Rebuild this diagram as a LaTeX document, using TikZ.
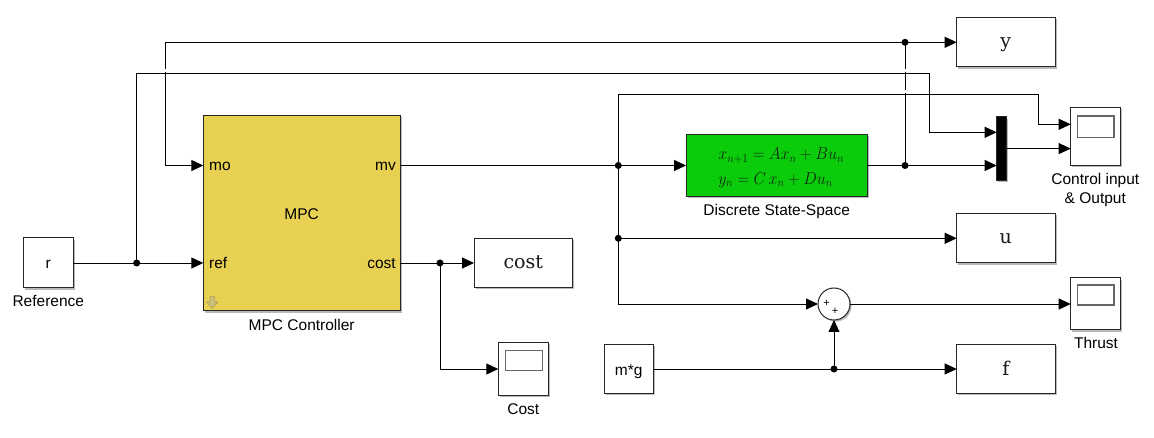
\documentclass[tikz,border=0pt]{standalone}
\usepackage{fontspec}
\usetikzlibrary{arrows.meta,shadows,calc}
\newfontfamily\arial{Liberation Sans}
\newfontfamily\dvserif{DejaVu Serif}
\definecolor{mpcyel}{RGB}{232,209,82}
\definecolor{ssgreen}{RGB}{10,204,10}
\definecolor{iconfill}{RGB}{205,192,120}
\definecolor{icondraw}{RGB}{170,158,90}
\definecolor{eqcol}{RGB}{15,40,15}
\begin{document}
\begin{tikzpicture}[x=1pt,y=-1pt,
  blk/.style={draw=black!85, line width=1pt, fill=white, inner sep=0pt, outer sep=0pt,
    drop shadow={shadow xshift=1.6pt, shadow yshift=-1.6pt, fill=black!50, opacity=0.55}},
  wire/.style={line width=0.9pt, draw=black},
  arr/.style={wire, -{Triangle[length=12pt,width=11pt]}},
  jdot/.style={circle, fill=black, inner sep=0pt, minimum size=7pt},
  lab/.style={font=\arial\fontsize{15.5}{18}\selectfont, inner sep=0pt},
  sym/.style={font=\dvserif\fontsize{19}{22}\selectfont, inner sep=0pt, text=black!90},
  eqn/.style={font=\fontsize{17.28}{20}\selectfont, inner sep=0pt, text=eqcol, xscale=0.93},
  scr/.style={draw=black!60, line width=1.2pt, fill=white},
  gap/.style={draw=white, line width=2.6pt}
]
\fill[white] (0,0) rectangle (1154,438);
\useasboundingbox (0,0) rectangle (1154,438);

% blocks
\node[blk, minimum width=50pt, minimum height=50pt] (r) at (48.3,263) {};
\node[blk, fill=mpcyel, minimum width=196.7pt, minimum height=195.3pt] (mpc) at (301.65,213.3) {};
\node[blk, fill=ssgreen, minimum width=181.3pt, minimum height=62.7pt] (ss) at (776.65,165.5) {};
\node[blk, minimum width=98.3pt, minimum height=49.3pt] (yb) at (1005.85,42.3) {};
\node[blk, minimum width=98.3pt, minimum height=49.3pt] (ub) at (1005.85,238.3) {};
\node[blk, minimum width=98.3pt, minimum height=49.3pt] (fb) at (1005.85,369) {};
\node[blk, minimum width=98.7pt, minimum height=49.3pt] (costb) at (523.35,263) {};
\node[blk, minimum width=49.3pt, minimum height=57.7pt] (cio) at (1095.35,136.2) {};
\node[blk, minimum width=49.3pt, minimum height=52pt] (thr) at (1095.35,304) {};
\node[blk, minimum width=50pt, minimum height=52.3pt] (cscope) at (523.3,369) {};
\node[blk, fill=black, minimum width=9.3pt, minimum height=63.3pt] (mux) at (1001.35,148.6) {};
\node[blk, circle, minimum size=32pt] (sum) at (834,304) {};
\node[blk, minimum width=49.3pt, minimum height=49pt] (mg) at (628.65,369) {};

% scope screens
\draw[scr] ($(cio.north west)+(6.5,8.7)$) rectangle ($(cio.north east)+(-6,30.4)$);
\draw[scr] ($(thr.north west)+(7,7)$) rectangle ($(thr.north east)+(-6,27)$);
\draw[scr] ($(cscope.north west)+(7.5,7.3)$) rectangle ($(cscope.north east)+(-6,27.3)$);

% MPC icon
\filldraw[fill=iconfill, draw=icondraw, line width=0.6pt]
  (210,296.7) -- (214.7,296.7) -- (214.7,302) -- (218,302) -- (212.3,308.3) -- (206.7,302) -- (210,302) -- cycle;

% port and helper coordinates
\coordinate (mpcmo) at (203.3,165.5);
\coordinate (mpcref) at (203.3,263);
\coordinate (mpcmv) at (400,165.5);
\coordinate (mpccost) at (400,263);
\coordinate (muxin1) at (996.7,132.3);
\coordinate (muxin2) at (996.7,165.5);
\coordinate (cioin1) at (1070.7,124.3);
\coordinate (cioin2) at (1070.7,148.6);
\coordinate (jr) at (136.7,263);
\coordinate (jc) at (440,263);
\coordinate (jmv) at (618.3,165.5);
\coordinate (ju) at (618.3,238.3);
\coordinate (jy) at (905,165.5);
\coordinate (jy2) at (905,42.3);
\coordinate (jm) at (834,369);
\coordinate (k1) at (929,73.3);
\coordinate (k2) at (165.7,165.5);
\coordinate (k3) at (1038.3,94.3);

% wires
\draw[arr] (r.east) -- (mpcref);
\draw[arr] (jy) -- (jy2) -- (yb.west);
\draw[arr] (jy2) -| (k2) -- (mpcmo);
\draw[arr] (mpcmv) -- (ss.west);
\draw[arr] (ss.east) -- (muxin2);
\draw[arr] (mux.east |- cioin2) -- (cioin2);
\draw[arr] (jmv) |- (sum.west);
\draw[arr] (ju) -- (ub.west);
\draw[arr] (sum.east) -- (thr.west);
\draw[arr] (mg.east) -- (fb.west);
\draw[arr] (jm) -- (sum.south);
\draw[arr] (mpccost) -- (costb.west);
\draw[arr] (jc) |- (cscope.west);
% crossing gaps (vertical lines tunnel under)
\draw[gap] (165.7,68.8) -- (165.7,71.6);
\draw[gap] (905,68.8) -- (905,71.6);
\draw[gap] (905,89.8) -- (905,92.6);
\draw[gap] (929,89.8) -- (929,92.6);
\draw[arr] (jr) |- (k1) |- (muxin1);
\draw[arr] (jmv) |- (k3) |- (cioin1);

% junction dots
\foreach \j in {jr,jc,jmv,ju,jy,jy2,jm} \node[jdot] (d\j) at (\j) {};

% texts
\node[lab, anchor=base] (rlab) at (48.3,268.3) {r};
\node[lab, anchor=base] (reflab) at (48.3,306.7) {Reference};
\node[lab, anchor=base] (mpclab) at (301.7,219.3) {MPC};
\node[lab, anchor=base west] (molab) at (209,170.8) {mo};
\node[lab, anchor=base west] (refport) at (209,268.3) {ref};
\node[lab, anchor=base east] (mvlab) at (396,170.8) {mv};
\node[lab, anchor=base east] (costport) at (396,268.3) {cost};
\node[lab, anchor=base] (mpcname) at (301.7,330.7) {MPC Controller};
\node[lab, anchor=base] (ssname) at (776.7,215.7) {Discrete State-Space};
\node[lab, anchor=base] (cio1) at (1095.3,185) {Control input};
\node[lab, anchor=base] (cio2) at (1095.3,204) {\& Output};
\node[lab, anchor=base] (thrlab) at (1096,348.7) {Thrust};
\node[lab, anchor=base] (costname) at (523.3,414.7) {Cost};
\node[lab, anchor=base] (mglab) at (628.7,375.5) {m*g};
\node[sym, anchor=base] (costtxt) at (523.3,268.8) {cost};
\node[sym, anchor=base] (ytxt) at (1005.85,47.8) {y};
\node[sym, anchor=base] (utxt) at (1005.85,243.8) {u};
\node[sym, anchor=base] (ftxt) at (1005.85,375) {f};
\node[eqn, anchor=base west] (eq1) at (718.3,160) {$x_{n+1} = Ax_n + Bu_n$};
\node[eqn, anchor=base west] (eq2) at (718.3,184.3) {$y_n = C\,x_n + Du_n$};
\node[font=\arial\fontsize{11}{11}\selectfont, inner sep=0pt] (p1) at (826.5,303) {+};
\node[font=\arial\fontsize{11}{11}\selectfont, inner sep=0pt] (p2) at (835,311.5) {+};
\end{tikzpicture}
\end{document}
